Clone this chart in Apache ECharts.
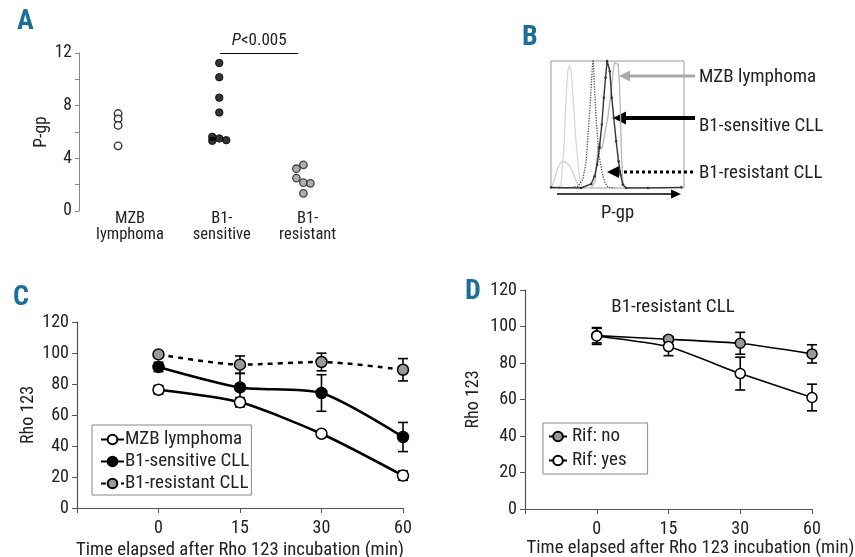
<!DOCTYPE html>
<html>
<head>
<meta charset="utf-8">
<script src="https://cdn.jsdelivr.net/npm/echarts@6/dist/echarts.min.js"></script>
<style>
html,body{margin:0;padding:0;background:#fff;}
#c{width:855px;height:557px;}
</style>
</head>
<body>
<div id="c"></div>
<script>
// ---------- Panel A: P-gp dot plot ----------
const aCats = ['MZB\nlymphoma', 'B1-\nsensitive', 'B1-\nresistant'];
const aMZB = [7.4, 7.0, 6.5, 4.95];
const aMZBJit = [0, 0, 0, 0];
const aSens = [11.24, 10.16, 8.61, 7.48, 5.63, 5.33, 5.51, 5.38];
const aSensJit = [0, 0, 0, 0, -1, -1, 0, 1];
const aRes = [3.21, 3.51, 2.50, 2.15, 2.10, 1.34];
const aResJit = [-1, 0, -1, 0, 1, 0];
const aYTicks = [0, 4, 8, 12];
const aPText = 'P<0.005';

// ---------- Panel B: flow histogram (channel, count) ----------
const bCtrl1 = [[0.5,0.5],[2.5,6.6],[5,15.8],[7.5,20.5],[10,21],[12.6,18.9],[15.1,15.8],[17.6,9.2],[20.1,2.6],[22.6,0],[30,0],[60,0],[100,0]];
const bCtrl2 = [[5,0],[7.5,2.6],[10,36.8],[11.3,71],[12.6,92],[13.8,97],[15.1,92],[16.3,76],[18.8,36.8],[21.4,7.9],[23.9,0],[30,0]];
const bRes = [[0,0],[12.6,0],[20.1,1.3],[23.9,6.6],[26.4,21],[28.1,44.7],[29.6,68.4],[30.9,92],[31.7,103],[32.7,78.9],[33.9,55.3],[35.2,36.8],[36.4,23.7],[38.2,13.2],[40.2,5.3],[42.7,0.5],[47.7,0]];
const bSens = [[0,0.5],[22.6,0],[30.2,3.2],[32.7,9.2],[34.7,18.4],[36.4,31.6],[38.2,50],[39.7,71],[41,86.8],[42.2,100],[43.2,101],[44.2,92],[45.7,71],[47.2,55.3],[49,36.8],[50.8,21],[52.3,10.5],[54,2.6],[56.5,0],[72.9,0],[98,0.5]];
const bMZB = [[30.2,0],[33.2,5.3],[35.2,31.6],[36.4,35.5],[37.7,30.3],[39,34.2],[40.7,44.7],[42.7,55.3],[44.7,71],[46.5,89.5],[47.7,98.7],[49.2,100],[50.5,97.4],[51.5,81.6],[52.3,55.3],[53,26.3],[54,5.3],[55.8,0],[62.8,0]];
const bLabels = ['MZB lymphoma', 'B1-sensitive CLL', 'B1-resistant CLL'];

// ---------- Panel C: Rho 123 retention ----------
const cTimes = ['0', '15', '30', '60'];
const cNames = ['MZB lymphoma', 'B1-sensitive CLL', 'B1-resistant CLL'];
const cMZB = [76.3, 68.2, 47.9, 20.9];
const cMZBErr = [2.7, 3.0, 1.2, 3.0];
const cSens = [91.0, 77.8, 74.2, 45.8];
const cSensErr = [3.0, 9.0, 11.8, 9.4];
const cRes = [99.1, 92.5, 94.2, 89.2];
const cResErr = [1.5, 5.6, 5.7, 7.2];

// ---------- Panel D: B1-resistant CLL +/- Rif ----------
const dTitle = 'B1-resistant CLL';
const dNames = ['Rif: no', 'Rif: yes'];
const dNo = [95.0, 93.0, 90.8, 85.0];
const dNoErr = [4.0, 1.5, 6.0, 5.0];
const dYes = [94.8, 89.0, 74.2, 61.1];
const dYesErr = [4.6, 5.0, 9.0, 7.3];

const xTitle = 'Time elapsed after Rho 123 incubation (min)';
const yTitle = 'Rho 123';

// ---------- layout / helpers ----------
const FONT = "'Roboto Condensed', 'Liberation Sans Narrow', Roboto, sans-serif";
const groupX = [0.46, 1.65, 2.64];
const labelX = [0.6, 1.68, 2.69];
const jitStep = 7;

function dots(vals, jit, g) {
  return vals.map((v, i) => ({ value: [groupX[g], v], symbolOffset: [jit[i] * jitStep, 0] }));
}
const cats = [''].concat(cTimes);
const pad = arr => [null].concat(arr);
function errData(vals, errs) {
  return vals.map((v, i) => [i + 1, v - errs[i], v + errs[i]]);
}
function errSeries(vals, errs, xi, yi, w) {
  return {
    type: 'custom', xAxisIndex: xi, yAxisIndex: yi, z: 1, silent: true,
    data: errData(vals, errs),
    renderItem: function (params, api) {
      const lo = api.coord([api.value(0), api.value(1)]);
      const hi = api.coord([api.value(0), api.value(2)]);
      const cw = 5;
      const st = { stroke: '#000', lineWidth: w };
      return { type: 'group', children: [
        { type: 'line', shape: { x1: lo[0], y1: lo[1], x2: hi[0], y2: hi[1] }, style: st },
        { type: 'line', shape: { x1: lo[0] - cw, y1: lo[1], x2: lo[0] + cw, y2: lo[1] }, style: st },
        { type: 'line', shape: { x1: hi[0] - cw, y1: hi[1], x2: hi[0] + cw, y2: hi[1] }, style: st }
      ]};
    }
  };
}
function lineSeries(name, vals, xi, yi, fill, dashed, lw, size, smooth) {
  return {
    name: name, type: 'line', xAxisIndex: xi, yAxisIndex: yi, z: 3,
    data: pad(vals), smooth: smooth, symbol: 'circle', symbolSize: size,
    showAllSymbol: true,
    lineStyle: { color: '#000', width: lw, type: dashed ? [5, 5] : 'solid' },
    itemStyle: { color: fill, borderColor: '#000', borderWidth: 1.5 },
    emphasis: { disabled: true }
  };
}
function letter(t, x, y) {
  return { type: 'text', left: x, top: y, style: { text: t, font: "bold 28px " + FONT, fill: '#1b6e96' } };
}

const axisTxt = { color: '#222', fontFamily: FONT, fontSize: 17.5 };

const option = {
  animation: false,
  textStyle: { fontFamily: FONT },
  grid: [
    { left: 79, top: 53, width: 306, height: 158, outerBoundsMode: 'none' },
    { left: 551, top: 61, width: 133, height: 127, show: true, borderColor: '#999', borderWidth: 1, outerBoundsMode: 'none' },
    { left: 77, top: 322, width: 326, height: 186, outerBoundsMode: 'none' },
    { left: 525, top: 290, width: 287, height: 219, outerBoundsMode: 'none' }
  ],
  xAxis: [
    { gridIndex: 0, type: 'value', min: 0, max: 3.6,
      axisLine: { show: false }, axisTick: { show: false }, splitLine: { show: false },
      axisLabel: { customValues: labelX, formatter: v => aCats[labelX.indexOf(v)] || '',
        color: '#222', fontFamily: FONT, fontSize: 16.5, lineHeight: 16, margin: 0 } },
    { gridIndex: 1, type: 'value', min: 0, max: 100,
      axisLine: { show: false }, axisTick: { show: false }, axisLabel: { show: false }, splitLine: { show: false },
      name: 'P-gp', nameLocation: 'middle', nameGap: 16,
      nameTextStyle: { color: '#222', fontFamily: FONT, fontSize: 18.5 } },
    { gridIndex: 2, type: 'category', data: cats, boundaryGap: false,
      axisLine: { lineStyle: { color: '#555', width: 1.2 } },
      axisTick: { length: 5, lineStyle: { color: '#555' } },
      axisLabel: Object.assign({ margin: 11, interval: 0 }, axisTxt, { fontSize: 18 }),
      name: xTitle, nameLocation: 'middle', nameGap: 33,
      nameTextStyle: { color: '#222', fontFamily: FONT, fontSize: 18.7 } },
    { gridIndex: 3, type: 'category', data: cats, boundaryGap: false,
      axisLine: { lineStyle: { color: '#555', width: 1.2 } },
      axisTick: { length: 5, lineStyle: { color: '#555' } },
      axisLabel: Object.assign({ margin: 11, interval: 0 }, axisTxt, { fontSize: 18 }),
      name: xTitle, nameLocation: 'middle', nameGap: 30,
      nameTextStyle: { color: '#222', fontFamily: FONT, fontSize: 18.7, padding: [0, 0, 0, 44] } }
  ],
  yAxis: [
    { gridIndex: 0, type: 'value', min: 0, max: 12, interval: 2,
      axisLine: { show: true, lineStyle: { color: '#888' } },
      axisTick: { show: true, length: 4, lineStyle: { color: '#888' } },
      splitLine: { show: false },
      axisLabel: Object.assign({ margin: 7, formatter: v => aYTicks.indexOf(v) >= 0 ? String(v) : '' }, axisTxt),
      name: 'P-gp', nameLocation: 'middle', nameGap: 27,
      nameTextStyle: { color: '#222', fontFamily: FONT, fontSize: 17.5 } },
    { gridIndex: 1, type: 'value', min: 0, max: 100,
      axisLine: { show: false }, axisTick: { show: false }, axisLabel: { show: false }, splitLine: { show: false } },
    { gridIndex: 2, type: 'value', min: 0, max: 120, interval: 20,
      axisLine: { show: true, lineStyle: { color: '#555', width: 1.2 } },
      axisTick: { show: true, length: 5, lineStyle: { color: '#555' } },
      splitLine: { show: false },
      axisLabel: Object.assign({ margin: 8 }, axisTxt, { fontSize: 18 }),
      name: yTitle, nameLocation: 'middle', nameGap: 40,
      nameTextStyle: { color: '#222', fontFamily: FONT, fontSize: 18 } },
    { gridIndex: 3, type: 'value', min: 0, max: 120, interval: 20,
      axisLine: { show: true, lineStyle: { color: '#555', width: 1.2 } },
      axisTick: { show: true, length: 5, lineStyle: { color: '#555' } },
      splitLine: { show: false },
      axisLabel: Object.assign({ margin: 8 }, axisTxt, { fontSize: 18 }),
      name: yTitle, nameLocation: 'middle', nameGap: 43,
      nameTextStyle: { color: '#222', fontFamily: FONT, fontSize: 18 } }
  ],
  legend: [
    { data: cNames, left: 92, top: 425, orient: 'vertical', itemGap: 3, itemWidth: 23, itemHeight: 12,
      padding: [5, 2, 2, 8], borderColor: '#888', borderWidth: 1, backgroundColor: '#fff',
      selectedMode: false, textStyle: { color: '#222', fontFamily: FONT, fontSize: 19, padding: [0, 0, 0, -4] } },
    { data: dNames, left: 543, top: 423, orient: 'vertical', itemGap: 5, itemWidth: 18, itemHeight: 12,
      padding: [4, 21, 4, 5], borderColor: '#888', borderWidth: 1, backgroundColor: '#fff',
      selectedMode: false, textStyle: { color: '#222', fontFamily: FONT, fontSize: 19, padding: [0, 0, 0, 0] } }
  ],
  series: [
    // Panel A
    { type: 'scatter', xAxisIndex: 0, yAxisIndex: 0, symbolSize: 7.5, data: dots(aMZB, aMZBJit, 0),
      itemStyle: { color: '#fff', borderColor: '#000', borderWidth: 1.4 } },
    { type: 'scatter', xAxisIndex: 0, yAxisIndex: 0, symbolSize: 7.5, data: dots(aSens, aSensJit, 1),
      itemStyle: { color: '#000', borderColor: '#000', borderWidth: 1 },
      markLine: { silent: true, symbol: 'none',
        lineStyle: { color: '#000', width: 1.2, type: 'solid' },
        label: { position: 'middle', distance: 4, formatter: '{i|P}<0.005', color: '#222', fontFamily: FONT, fontSize: 17,
          rich: { i: { fontStyle: 'italic', fontFamily: FONT, fontSize: 17, color: '#222' } } },
        data: [[{ coord: [1.66, 12] }, { coord: [2.58, 12] }]] } },
    { type: 'scatter', xAxisIndex: 0, yAxisIndex: 0, symbolSize: 7.5, data: dots(aRes, aResJit, 2),
      itemStyle: { color: '#9a9a9a', borderColor: '#222', borderWidth: 1.3 } },
    // Panel B
    { type: 'line', xAxisIndex: 1, yAxisIndex: 1, data: bCtrl1, symbol: 'none', lineStyle: { color: '#d0d0d0', width: 1.3 } },
    { type: 'line', xAxisIndex: 1, yAxisIndex: 1, data: bCtrl2, symbol: 'none', lineStyle: { color: '#d8d8d8', width: 1.3 } },
    { type: 'line', xAxisIndex: 1, yAxisIndex: 1, data: bMZB, symbol: 'none', lineStyle: { color: '#b5b5b5', width: 1.3 } },
    { type: 'line', xAxisIndex: 1, yAxisIndex: 1, data: bRes, symbol: 'none', lineStyle: { color: '#555', width: 1.3, type: 'dotted' } },
    { type: 'line', xAxisIndex: 1, yAxisIndex: 1, data: bSens, symbol: 'circle', symbolSize: 2.5, showAllSymbol: true,
      lineStyle: { color: '#333', width: 1.4 }, itemStyle: { color: '#333' } },
    // Panel C
    errSeries(cMZB, cMZBErr, 2, 2, 1.6),
    errSeries(cSens, cSensErr, 2, 2, 1.6),
    errSeries(cRes, cResErr, 2, 2, 1.6),
    lineSeries(cNames[0], cMZB, 2, 2, '#fff', false, 2.5, 11, 0.25),
    lineSeries(cNames[1], cSens, 2, 2, '#000', false, 2.5, 11, 0.25),
    lineSeries(cNames[2], cRes, 2, 2, '#999', true, 2.5, 11, 0.25),
    // Panel D
    errSeries(dNo, dNoErr, 3, 3, 1.6),
    errSeries(dYes, dYesErr, 3, 3, 1.6),
    lineSeries(dNames[0], dNo, 3, 3, '#999', false, 1.6, 10, 0.15),
    lineSeries(dNames[1], dYes, 3, 3, '#fff', false, 1.6, 10, 0.15)
  ],
  graphic: [
    letter('A', 17, 8), letter('B', 522, 24), letter('C', 13, 284), letter('D', 465, 278),
    { type: 'text', x: 673, y: 307, style: { text: dTitle, font: "19px " + FONT, fill: '#222', textAlign: 'center', textVerticalAlign: 'middle' } },
    // Panel B arrows and labels
    { type: 'line', shape: { x1: 695, y1: 76, x2: 627, y2: 76 }, style: { stroke: '#aaa', lineWidth: 3 } },
    { type: 'polygon', shape: { points: [[619, 76], [630, 70.5], [630, 81.5]] }, style: { fill: '#aaa' } },
    { type: 'line', shape: { x1: 695, y1: 118, x2: 622, y2: 118 }, style: { stroke: '#000', lineWidth: 4 } },
    { type: 'polygon', shape: { points: [[613, 118], [626, 111.5], [626, 124.5]] }, style: { fill: '#000' } },
    { type: 'line', shape: { x1: 693, y1: 172, x2: 617, y2: 172 }, style: { stroke: '#000', lineWidth: 3, lineDash: [3, 3] } },
    { type: 'polygon', shape: { points: [[607, 172], [619, 166], [619, 178]] }, style: { fill: '#000' } },
    { type: 'line', shape: { x1: 557, y1: 194, x2: 673, y2: 194 }, style: { stroke: '#000', lineWidth: 1.5 } },
    { type: 'polygon', shape: { points: [[681, 194], [671, 189.5], [671, 198.5]] }, style: { fill: '#000' } },
    { type: 'text', x: 699, y: 77, style: { text: bLabels[0], font: "19px " + FONT, fill: '#222', textVerticalAlign: 'middle' } },
    { type: 'text', x: 699, y: 126, style: { text: bLabels[1], font: "19px " + FONT, fill: '#222', textVerticalAlign: 'middle' } },
    { type: 'text', x: 699, y: 173, style: { text: bLabels[2], font: "19px " + FONT, fill: '#222', textVerticalAlign: 'middle' } }
  ]
};

const chart = echarts.init(document.getElementById('c'), null, { renderer: 'canvas' });
chart.setOption(option);
</script>
</body>
</html>
